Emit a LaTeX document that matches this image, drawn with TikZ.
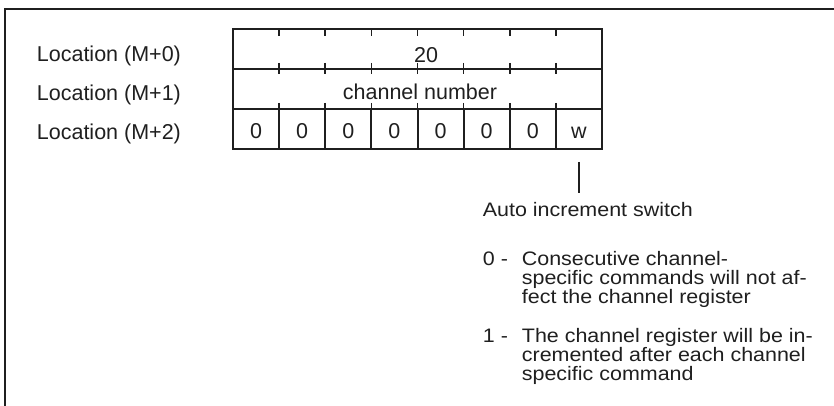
\documentclass[tikz,border=0pt]{standalone}
\usepackage{fontspec}
\setmainfont{Liberation Sans}
\newfontfamily\widesans[FakeStretch=1.1]{Liberation Sans}
\definecolor{ink}{gray}{0.12}
\begin{document}
\begin{tikzpicture}[x=1pt,y=-1pt,
  txt/.style={inner sep=0pt, text=ink, font=\fontsize{21.5}{19}\selectfont},
  para/.style={inner sep=0pt, text=ink, font=\widesans\fontsize{19.5}{19}\selectfont, anchor=base west, text height=14pt, text depth=3pt},
  rowbox/.style={draw=ink, line width=2pt, minimum width=369pt, minimum height=40pt, inner sep=0pt},
  cell/.style={draw=ink, line width=2pt, minimum width=46.125pt, minimum height=40pt, inner sep=0pt, text height=20pt, text depth=0pt, text=ink, font=\fontsize{21.5}{19}\selectfont},
  tick/.style={draw=ink, line width=1.6pt},
  conn/.style={draw=ink, line width=2pt},
  frame/.style={draw=ink, line width=2pt}]
\useasboundingbox (0,0) rectangle (834,406);
% open frame
\draw[frame] (5,412) -- (5,9) -- (840,9);
% register rows
\node[rowbox] (r1) at (417.5,49) {};
\node[rowbox] (r2) at (417.5,89) {};
\node[txt, anchor=base] (cn) at (420,100) {channel number};
\node[txt, anchor=base] (v20) at (426,63) {20};
\foreach \i/\t in {1/0,2/0,3/0,4/0,5/0,6/0,7/0,8/w}
  \node[cell] (c\i) at ({233+(\i-0.5)*46.125},129) {\t};
% ticks
\foreach \i in {1,...,7} {
  \draw[tick] ({233+\i*46.125},29) -- ++(0,7);
  \draw[tick] ({233+\i*46.125},63) -- ++(0,11);
  \draw[tick] ({233+\i*46.125},103) -- ++(0,6);
}
% labels
\node[txt, anchor=base west] (l0) at (36.7,61.5) {Location (M+0)};
\node[txt, anchor=base west] (l1) at (36.7,100.5) {Location (M+1)};
\node[txt, anchor=base west] (l2) at (36.7,139.5) {Location (M+2)};
% explanation
\node[para] (ai) at (482.7,216.7) {Auto increment switch};
\draw[conn, shorten <=12pt, shorten >=10pt] (c8.south) -- (c8.south |- ai.north);
\node[para] (z0) at (482.7,265) {0 -};
\node[para] (z1) at (521.7,265) {Consecutive channel-};
\node[para] (z2) at (521.7,284) {specific commands will not af-};
\node[para] (z3) at (521.7,303) {fect the channel register};
\node[para] (o0) at (482.7,342.7) {1 -};
\node[para] (o1) at (521.7,342.7) {The channel register will be in-};
\node[para] (o2) at (521.7,361.7) {cremented after each channel};
\node[para] (o3) at (521.7,380.7) {specific command};
\end{tikzpicture}
\end{document}
